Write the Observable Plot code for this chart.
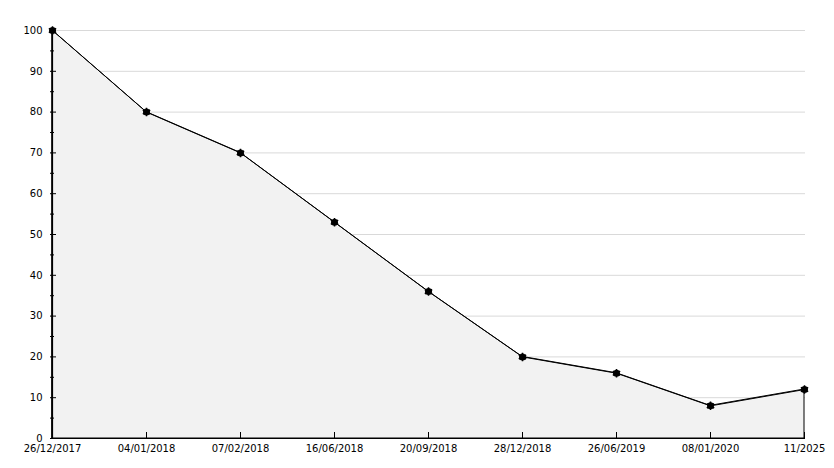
<!DOCTYPE html>
<html>
<head>
<meta charset="utf-8">
<script src="https://cdn.jsdelivr.net/npm/d3@7"></script>
<script src="https://cdn.jsdelivr.net/npm/@observablehq/plot@0.6"></script>
<style>
  html, body { margin: 0; padding: 0; background: #fff; }
  #chart svg { display: block; }
</style>
</head>
<body>
<div id="chart"></div>
<script>
const dates = ["26/12/2017", "04/01/2018", "07/02/2018", "16/06/2018", "20/09/2018", "28/12/2018", "26/06/2019", "08/01/2020", "11/2025"];
const values = [100, 80, 70, 53, 36, 20, 16, 8, 12];
const majorTicks = [0, 10, 20, 30, 40, 50, 60, 70, 80, 90, 100];
const minorTicks = [5, 15, 25, 35, 45, 55, 65, 75, 85, 95];

const data = dates.map((d, i) => ({date: d, value: values[i]}));

const W = 834, H = 468;
const mL = 50, mR = 29, mT = 30, mB = 30;
const fw = W - mL - mR, fh = H - mT - mB;

const chart = Plot.plot({
  width: W,
  height: H,
  marginLeft: mL,
  marginRight: mR,
  marginTop: mT,
  marginBottom: mB,
  style: {fontFamily: "DejaVu Sans", fontSize: "10px", background: "#fff", color: "#000"},
  x: {type: "point", domain: dates, padding: 0, label: null},
  y: {domain: [0, 100], label: null},
  marks: [
    Plot.ruleY(majorTicks.filter(d => d > 0), {stroke: "#d9d9d9", strokeWidth: 1}),
    Plot.areaY(data, {x: "date", y: "value", fill: "#f2f2f2", stroke: "#000", strokeWidth: 1}),
    Plot.line(data, {x: "date", y: "value", stroke: "#000", strokeWidth: 1}),
    Plot.dot(data, {x: "date", y: "value", r: 3.5, fill: "#000", stroke: "none"}),
    Plot.dot(data, {x: "date", y: "value", r: 4, symbol: "asterisk", stroke: "#000", strokeWidth: 1.5}),
    Plot.ruleX([dates[0]], {stroke: "#000", strokeWidth: 1.2}),
    Plot.ruleY([0], {stroke: "#000", strokeWidth: 1.2}),
    Plot.tickY(majorTicks, {y: d => d, insetRight: fw - 6, stroke: "#000"}),
    Plot.tickY(minorTicks, {y: d => d, insetRight: fw - 4, stroke: "#000"}),
    Plot.tickX(dates, {x: d => d, insetTop: fh - 6, stroke: "#000"}),
    Plot.axisY({ticks: majorTicks, tickSize: 0, tickPadding: 8, tickFormat: d => String(d), fontSize: 10, label: null}),
    Plot.axisX({tickSize: 0, tickPadding: 6, fontSize: 10, label: null})
  ]
});
document.getElementById("chart").appendChild(chart);
</script>
</body>
</html>
